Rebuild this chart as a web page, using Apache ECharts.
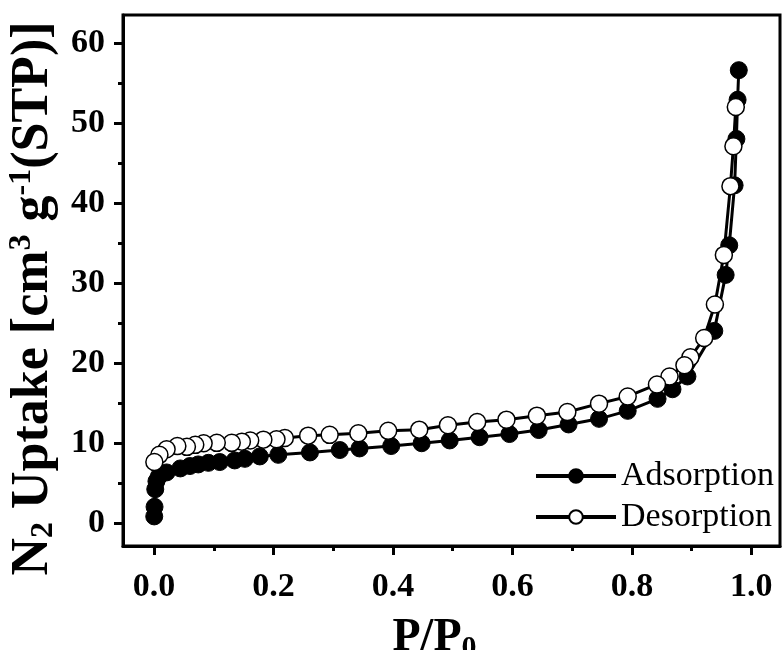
<!DOCTYPE html>
<html>
<head>
<meta charset="utf-8">
<script src="https://cdn.jsdelivr.net/npm/echarts@6/dist/echarts.min.js"></script>
<style>
  html, body { margin: 0; padding: 0; background: #fff; }
  #chart { width: 782px; height: 650px; }
</style>
</head>
<body>
<div id="chart"></div>
<script>
// N2 isotherm: relative pressure P/P0 and uptake (cm3 g-1, STP)
const adsorptionP = [0.0003, 0.0008, 0.002, 0.004, 0.008, 0.021, 0.044, 0.060, 0.074, 0.091,
  0.110, 0.135, 0.152, 0.177, 0.208, 0.261, 0.311, 0.344, 0.397, 0.448,
  0.495, 0.545, 0.595, 0.644, 0.694, 0.745, 0.793, 0.843, 0.868, 0.893,
  0.938, 0.957, 0.963, 0.972, 0.975, 0.977, 0.979];
const adsorptionV = [0.8, 2.0, 4.2, 5.2, 5.8, 6.3, 6.8, 7.1, 7.3, 7.5,
  7.6, 7.8, 8.0, 8.3, 8.5, 8.8, 9.1, 9.3, 9.6, 9.95,
  10.3, 10.7, 11.1, 11.6, 12.3, 13.0, 14.0, 15.5, 16.7, 18.3,
  24.0, 31.0, 34.7, 42.2, 48.0, 52.9, 56.6];

const desorptionP = [0.974, 0.970, 0.965, 0.954, 0.939, 0.921, 0.898, 0.888, 0.863, 0.842,
  0.793, 0.745, 0.692, 0.641, 0.590, 0.541, 0.492, 0.444, 0.392, 0.342,
  0.294, 0.258, 0.219, 0.205, 0.183, 0.161, 0.147, 0.130, 0.105, 0.083,
  0.069, 0.055, 0.039, 0.021, 0.009, 0.0005];
const desorptionV = [52.0, 47.1, 42.1, 33.5, 27.3, 23.1, 20.7, 19.7, 18.3, 17.3,
  15.8, 14.9, 13.85, 13.4, 12.9, 12.6, 12.2, 11.65, 11.5, 11.2,
  11.0, 10.9, 10.6, 10.45, 10.4, 10.3, 10.15, 10.0, 10.0, 9.95,
  9.75, 9.5, 9.6, 9.2, 8.5, 7.6];

const xTickValues = [0, 0.2, 0.4, 0.6, 0.8, 1.0];
const xMinorTickValues = [0.1, 0.3, 0.5, 0.7, 0.9];
const yTickValues = [0, 10, 20, 30, 40, 50, 60];
const yMinorTickValues = [5, 15, 25, 35, 45, 55];

const FONT = 'Liberation Serif';
const xRange = { min: -0.052, max: 1.048 };
const yRange = { min: -2.9, max: 63.5 };

function pairs(xs, ys) { return xs.map((x, i) => [x, ys[i]]); }

// helper axis that only draws a set of outward ticks on the frame edge
function tickAxis(range, position, values, len) {
  return {
    type: 'value', min: range.min, max: range.max, position: position, offset: 0,
    splitLine: { show: false },
    axisLine: { show: false, onZero: false },
    axisTick: { show: true, inside: false, length: len, lineStyle: { color: '#000', width: 3 }, customValues: values },
    axisLabel: { show: false }
  };
}

const chart = echarts.init(document.getElementById('chart'));

chart.setOption({
  animation: false,
  backgroundColor: '#fff',
  grid: {
    left: 123, right: 2, top: 15, bottom: 104,
    outerBoundsMode: 'none',
    containLabel: false,
    show: true, borderColor: '#000', borderWidth: 3, backgroundColor: 'transparent'
  },
  legend: {
    orient: 'vertical',
    left: 529,
    top: 454,
    itemWidth: 80,
    itemHeight: 17,
    itemGap: 7,
    lineStyle: { width: 4, color: '#000' },
    textStyle: { fontFamily: FONT, fontSize: 34, color: '#000', lineHeight: 34 },
    data: ['Adsorption', 'Desorption']
  },
  xAxis: [
    {
      type: 'value', min: xRange.min, max: xRange.max, position: 'bottom',
      splitLine: { show: false },
      axisLine: { show: true, onZero: false, lineStyle: { color: '#000', width: 3 } },
      axisTick: { show: false },
      name: '{m|P/P}{s|0}',
      nameLocation: 'middle',
      nameGap: 67,
      nameTextStyle: {
        padding: [0, 34, 0, 0],
        rich: {
          m: { fontFamily: FONT, fontWeight: 'bold', fontSize: 46, color: '#000', lineHeight: 50 },
          s: { fontFamily: FONT, fontWeight: 'bold', fontSize: 30, color: '#000', lineHeight: 30, verticalAlign: 'bottom' }
        }
      },
      axisLabel: {
        customValues: xTickValues, margin: 24,
        fontFamily: FONT, fontWeight: 'bold', fontSize: 34, color: '#000',
        formatter: v => v.toFixed(1)
      }
    },
    tickAxis(xRange, 'bottom', xTickValues, 9),
    tickAxis(xRange, 'bottom', xMinorTickValues, 5)
  ],
  yAxis: [
    {
      type: 'value', min: yRange.min, max: yRange.max, position: 'left',
      splitLine: { show: false },
      axisLine: { show: true, onZero: false, lineStyle: { color: '#000', width: 3 } },
      axisTick: { show: false },
      name: '{m|N}{s|2}{m| Uptake [cm}{p|3}{m| g}{p|-1}{m|(STP)]}',
      nameLocation: 'middle',
      nameGap: 60,
      nameRotate: 90,
      nameTextStyle: {
        padding: [0, 36, 0, 0],
        rich: {
          m: { fontFamily: FONT, fontWeight: 'bold', fontSize: 52, color: '#000', lineHeight: 54 },
          s: { fontFamily: FONT, fontWeight: 'bold', fontSize: 32, color: '#000', lineHeight: 30, verticalAlign: 'bottom' },
          p: { fontFamily: FONT, fontWeight: 'bold', fontSize: 32, color: '#000', lineHeight: 30, verticalAlign: 'top' }
        }
      },
      axisLabel: {
        customValues: yTickValues, margin: 18,
        fontFamily: FONT, fontWeight: 'bold', fontSize: 34, color: '#000'
      }
    },
    tickAxis(yRange, 'left', yTickValues, 9),
    tickAxis(yRange, 'left', yMinorTickValues, 5)
  ],
  series: [
    {
      name: 'Adsorption',
      type: 'line',
      xAxisIndex: 0, yAxisIndex: 0,
      data: pairs(adsorptionP, adsorptionV),
      symbol: 'circle',
      symbolSize: 17,
      lineStyle: { color: '#000', width: 3 },
      itemStyle: { color: '#000', borderColor: '#000', borderWidth: 1 },
      z: 2
    },
    {
      name: 'Desorption',
      type: 'line',
      xAxisIndex: 0, yAxisIndex: 0,
      data: pairs(desorptionP, desorptionV),
      symbol: 'circle',
      symbolSize: 17,
      lineStyle: { color: '#000', width: 3 },
      itemStyle: { color: '#fff', borderColor: '#000', borderWidth: 1.5 },
      z: 3
    }
  ]
});
</script>
</body>
</html>
